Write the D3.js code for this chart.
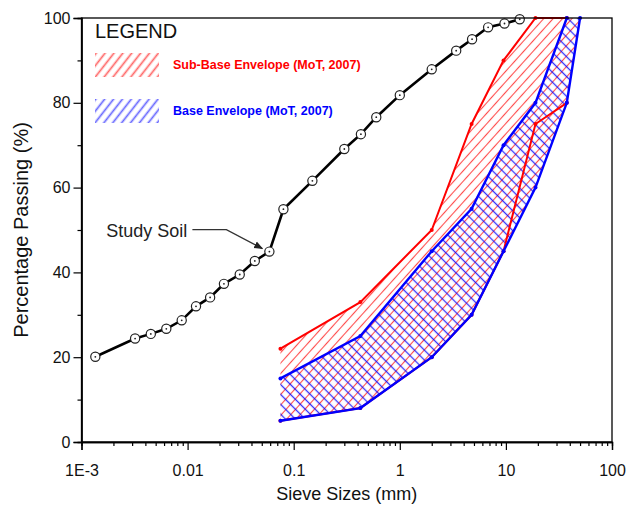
<!DOCTYPE html>
<html>
<head>
<meta charset="utf-8">
<script src="https://cdn.jsdelivr.net/npm/d3@7"></script>
<style>
  body { margin: 0; background: #fff; }
  svg { display: block; font-family: "Liberation Sans", Arial, sans-serif; }
</style>
</head>
<body>
<div id="chart"></div>
<script>
// Grain size distribution: study soil vs MoT 2007 envelopes
const width = 628;
const height = 507;
const margin = { top: 18, right: 16, bottom: 65, left: 81.5 };

// study soil gradation
const studySize = [0.00135, 0.0032, 0.0045, 0.0063, 0.0088, 0.012, 0.0163, 0.022, 0.031, 0.043, 0.059, 0.08,
    0.15, 0.3, 0.43, 0.6, 1.0, 2.0, 3.4, 4.8, 6.8, 9.7, 13.5];
const studyPassing = [20.1, 24.4, 25.5, 26.7, 28.7, 32.0, 34.1, 37.3, 39.5, 42.7, 44.9, 54.9,
    61.6, 69.1, 72.6, 76.6, 81.8, 87.9, 92.3, 95.0, 97.8, 98.7, 99.7];

// envelope limits
const envSize = [0.075, 0.425, 2, 4.75, 9.5, 19, 37.5, 50];
const subBaseUpper = [22, 33, 50, 75, 90, 100, 100];
const subBaseLower = [5, 8, 20, 30, 45, 75, 80];
const baseUpper = [15, 25, 45, 55, 70, 80, 100];
const baseLower = [5, 8, 20, 30, 45, 60, 80, 100];

const xTicks = [0.001, 0.01, 0.1, 1, 10, 100];
const xTickLabels = ["1E-3", "0.01", "0.1", "1", "10", "100"];
const yTicks = [0, 20, 40, 60, 80, 100];

const RED = "#ff0000";
const BLUE = "#0000ff";

const svg = d3.select("#chart").append("svg")
    .attr("width", width)
    .attr("height", height);

const x = d3.scaleLog().domain([0.001, 100]).range([margin.left, width - margin.right]);
const y = d3.scaleLinear().domain([0, 100]).range([height - margin.bottom, margin.top]);

const toPts = (sizes, vals) => vals.map((v, i) => [sizes[i], v]);
const line = d3.line().x(d => x(d[0])).y(d => y(d[1]));

// hatch patterns
const defs = svg.append("defs");
function hatch(id, color, angle, gap, sw, op) {
    const p = defs.append("pattern")
        .attr("id", id)
        .attr("patternUnits", "userSpaceOnUse")
        .attr("width", gap)
        .attr("height", gap)
        .attr("patternTransform", `rotate(${angle})`);
    p.append("line")
        .attr("x1", gap / 2).attr("y1", 0)
        .attr("x2", gap / 2).attr("y2", gap)
        .attr("stroke", color)
        .attr("stroke-width", sw)
        .attr("stroke-opacity", op);
}
hatch("redHatch", RED, 42, 7, 1.1, 0.7);
hatch("blueHatch", BLUE, -45, 7, 1.3, 0.8);
hatch("redHatchLeg", RED, 38, 7, 1.7, 0.6);
hatch("blueHatchLeg", BLUE, 38, 7, 1.7, 0.6);

// envelope fills
const subBasePoly = toPts(envSize, subBaseUpper).concat(toPts(envSize, baseLower).reverse());
const basePoly = toPts(envSize, baseUpper).concat(toPts(envSize, baseLower).reverse());

svg.append("path")
    .attr("d", line(subBasePoly) + "Z")
    .attr("fill", "url(#redHatch)");
svg.append("path")
    .attr("d", line(basePoly) + "Z")
    .attr("fill", "url(#blueHatch)");

// envelope lines
[subBaseUpper, subBaseLower].forEach(vals => {
    const pts = toPts(envSize, vals);
    svg.append("path")
        .attr("d", line(pts))
        .attr("fill", "none")
        .attr("stroke", RED)
        .attr("stroke-width", 2);
    svg.append("g").selectAll("circle")
        .data(pts)
        .join("circle")
        .attr("cx", d => x(d[0]))
        .attr("cy", d => y(d[1]))
        .attr("r", 2)
        .attr("fill", RED);
});
[baseUpper, baseLower].forEach(vals => {
    const pts = toPts(envSize, vals);
    svg.append("path")
        .attr("d", line(pts))
        .attr("fill", "none")
        .attr("stroke", BLUE)
        .attr("stroke-width", 2.4);
    svg.append("g").selectAll("circle")
        .data(pts)
        .join("circle")
        .attr("cx", d => x(d[0]))
        .attr("cy", d => y(d[1]))
        .attr("r", 2)
        .attr("fill", BLUE);
});

// study soil curve
const studyPts = toPts(studySize, studyPassing);
svg.append("path")
    .attr("d", line(studyPts))
    .attr("fill", "none")
    .attr("stroke", "#000")
    .attr("stroke-width", 2.6);
const marks = svg.append("g").selectAll("g")
    .data(studyPts)
    .join("g")
    .attr("transform", d => `translate(${x(d[0])},${y(d[1])})`);
marks.append("circle")
    .attr("r", 4.6)
    .attr("fill", "#fff")
    .attr("stroke", "#222")
    .attr("stroke-width", 1.2);
marks.append("circle")
    .attr("r", 0.9)
    .attr("fill", "#222");

// frame
svg.append("rect")
    .attr("x", margin.left)
    .attr("y", margin.top)
    .attr("width", width - margin.left - margin.right)
    .attr("height", height - margin.top - margin.bottom)
    .attr("fill", "none")
    .attr("stroke", "#000")
    .attr("stroke-width", 1.3);

// axes
const minorX = [];
for (let e = -3; e < 2; e++) {
    for (let m = 2; m <= 9; m++) minorX.push(m * Math.pow(10, e));
}
const xAxis = svg.append("g")
    .attr("transform", `translate(0,${height - margin.bottom})`);
xAxis.call(d3.axisBottom(x).tickValues(minorX).tickSize(4).tickFormat(""));
xAxis.append("g").call(d3.axisBottom(x).tickValues(xTicks).tickSize(8)
    .tickFormat((d, i) => xTickLabels[i]));
xAxis.selectAll(".domain").attr("stroke-width", 1.3);
xAxis.selectAll(".tick line").attr("stroke-width", 1.2);
xAxis.selectAll("text")
    .attr("font-size", 16)
    .attr("font-family", "Liberation Sans, Arial, sans-serif")
    .attr("fill", "#111")
    .attr("dy", "1.45em");

const yAxis = svg.append("g")
    .attr("transform", `translate(${margin.left},0)`);
yAxis.call(d3.axisLeft(y).tickValues([10, 30, 50, 70, 90]).tickSize(4).tickFormat(""));
yAxis.append("g").call(d3.axisLeft(y).tickValues(yTicks).tickSize(8).tickFormat(d3.format("d")));
yAxis.selectAll(".domain").attr("stroke-width", 1.3);
yAxis.selectAll(".tick line").attr("stroke-width", 1.2);
yAxis.selectAll("text")
    .attr("font-size", 16)
    .attr("font-family", "Liberation Sans, Arial, sans-serif")
    .attr("fill", "#111")
    .attr("x", -11);

// axis titles
svg.append("text")
    .attr("x", (margin.left + width - margin.right) / 2)
    .attr("y", 500)
    .attr("text-anchor", "middle")
    .attr("font-size", 18)
    .attr("fill", "#111")
    .text("Sieve Sizes (mm)");
svg.append("text")
    .attr("transform", `translate(28,${(margin.top + height - margin.bottom) / 2}) rotate(-90)`)
    .attr("text-anchor", "middle")
    .attr("font-size", 20)
    .attr("fill", "#111")
    .text("Percentage Passing (%)");

// legend
svg.append("text")
    .attr("x", 95).attr("y", 38)
    .attr("font-size", 20)
    .attr("fill", "#111")
    .text("LEGEND");
const legend = [
    { label: "Sub-Base Envelope (MoT, 2007)", color: RED, fill: "url(#redHatchLeg)", y: 53 },
    { label: "Base Envelope (MoT, 2007)", color: BLUE, fill: "url(#blueHatchLeg)", y: 99 }
];
legend.forEach(d => {
    svg.append("rect")
        .attr("x", 95).attr("y", d.y)
        .attr("width", 64).attr("height", 24)
        .attr("fill", d.fill);
    svg.append("text")
        .attr("x", 173).attr("y", d.y + 16)
        .attr("font-size", 12.5)
        .attr("font-weight", "bold")
        .attr("fill", d.color)
        .text(d.label);
});

// annotation
const ai = 10;
const tipX = x(studySize[ai]) - 7;
const tipY = y(studyPassing[ai]) - 3;
defs.append("marker")
    .attr("id", "arrow")
    .attr("viewBox", "0 0 10 10")
    .attr("refX", 9).attr("refY", 5)
    .attr("markerWidth", 7).attr("markerHeight", 7)
    .attr("orient", "auto")
    .append("path")
    .attr("d", "M0,1L10,5L0,9Z")
    .attr("fill", "#222");
svg.append("path")
    .attr("d", `M${tipX - 70},${tipY - 19}L${tipX - 36},${tipY - 19}L${tipX},${tipY}`)
    .attr("fill", "none")
    .attr("stroke", "#333")
    .attr("stroke-width", 1.3)
    .attr("marker-end", "url(#arrow)");
svg.append("text")
    .attr("x", tipX - 75).attr("y", tipY - 12)
    .attr("text-anchor", "end")
    .attr("font-size", 18)
    .attr("fill", "#222")
    .text("Study Soil");
</script>
</body>
</html>
